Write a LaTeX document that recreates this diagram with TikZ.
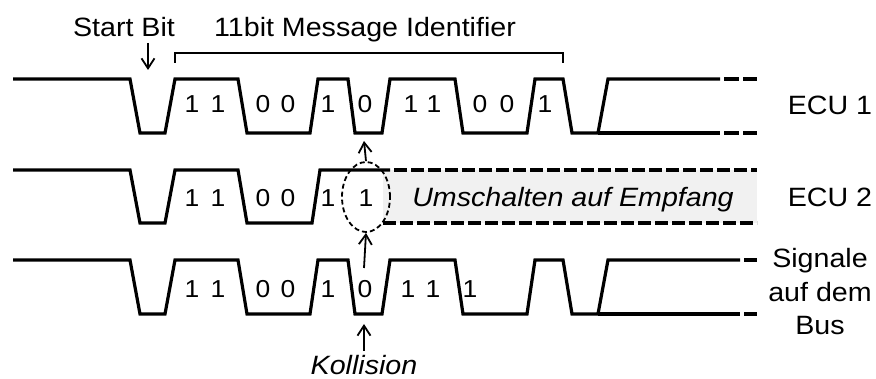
\documentclass[tikz,border=0pt]{standalone}
\usepackage{fontspec}
\setmainfont{Liberation Sans}[FakeStretch=1.08]
\usetikzlibrary{arrows.meta,shapes.geometric}
\begin{document}
\begin{tikzpicture}[x=1pt,y=-1pt,
  wave/.style={line width=3.2pt,line join=miter},
  wavedash/.style={line width=3.2pt,dash pattern=on 13pt off 4pt},
  thinline/.style={line width=1.5pt},
  ptr/.style={line width=1.8pt,-{Straight Barb[length=10pt,width=13pt,line width=1.8pt]}},
  bit/.style={font=\fontsize{24.5}{28}\selectfont,inner sep=0pt,anchor=base},
  lbl/.style={font=\fontsize{26.5}{30}\selectfont,inner sep=0pt,anchor=base},
  ilbl/.style={font=\fontsize{26.5}{30}\selectfont\itshape,inner sep=0pt,anchor=base}]
\useasboundingbox (0,0) rectangle (876,379);

% ---------- ECU 1 ----------
\draw[wave] (13,79) -- (130,79) -- (140,133) -- (165,133) -- (175,79) -- (238,79)
  -- (247,133) -- (310,133) -- (318,79) -- (348,79) -- (355,133) -- (382,133)
  -- (390,79) -- (455,79) -- (463,133) -- (527,133) -- (535,79) -- (563,79)
  -- (572,133) -- (598,133) -- (608,79) -- (720,79);
\draw[wave] (598,133) -- (720,133);
\draw[wavedash,dash pattern=on 15pt off 4pt] (724,79) -- (757,79);
\draw[wavedash,dash pattern=on 15pt off 4pt] (724,133) -- (757,133);

% ---------- ECU 2 ----------
\fill[gray!11] (383,170) rectangle (757,223);
\draw[wave] (13,170) -- (130,170) -- (140,223) -- (165,223) -- (175,170) -- (238,170)
  -- (247,223) -- (312,223) -- (320,170) -- (390,170);
\draw[wavedash] (394,170) -- (757,170);
\draw[wavedash] (383,223) -- (757,223);

% ---------- Bus ----------
\draw[wave] (13,260) -- (130,260) -- (140,314) -- (165,314) -- (175,260) -- (238,260)
  -- (247,314) -- (310,314) -- (318,260) -- (348,260) -- (355,314) -- (382,314)
  -- (390,260) -- (455,260) -- (463,314) -- (527,314) -- (535,260) -- (563,260)
  -- (572,314) -- (598,314) -- (608,260) -- (740,260);
\draw[wave] (598,314) -- (740,314);
\draw[wave] (744,260) -- (757,260);
\draw[wave] (744,314) -- (757,314);

% ---------- bit values ----------
\foreach \x/\b in {192/1,218/1,263/0,288/0,328/1,365/0,411/1,434/1,480/0,507/0,545/1}
  \node[bit] at (\x,113) {\b};
\foreach \x/\b in {192/1,218/1,263/0,288/0,328/1}
  \node[bit] at (\x,207) {\b};
\foreach \x/\b in {192/1,218/1,263/0,288/0,328/1,365/0,408/1,433/1,470/1}
  \node[bit] at (\x,298) {\b};

% ---------- collision marker ----------
\node[draw,ellipse,line width=1.8pt,dash pattern=on 5pt off 3pt,
  minimum width=48pt,minimum height=70pt,inner sep=0pt] (coll) at (366,197) {};
\node[bit] (collbit) at (366,207) {1};
\coordinate (upfrom) at (364,268);
\coordinate (uptop) at (364,141);
\draw[ptr] (upfrom) -- (coll.south);
\draw[ptr] (coll.north) -- (uptop);

\node[ilbl] (koll) at (364,375) {Kollision};
\coordinate (kollfrom) at (364,351);
\coordinate (kolltip) at (364,324);
\draw[ptr] (kollfrom) -- (kolltip);

\node[ilbl] (switch) at (573,207) {Umschalten auf Empfang};

% ---------- headings ----------
\node[lbl] (start) at (124,37) {Start Bit};
\coordinate (startfrom) at (148,43);
\coordinate (starttip) at (148,70);
\draw[ptr] (startfrom) -- (starttip);

\node[lbl] (ident) at (365,37) {11bit Message Identifier};
\coordinate (brL) at (175,63);
\coordinate (brR) at (563,63);
\draw[thinline] (brL) -- ++(0,-10) -| (brR);

% ---------- line names ----------
\node[lbl] (ecu1) at (830,115) {ECU 1};
\node[lbl] (ecu2) at (830,207) {ECU 2};
\node[lbl] (bus1) at (820,268) {Signale};
\node[lbl] (bus2) at (820,302) {auf dem};
\node[lbl] (bus3) at (820,335) {Bus};
\end{tikzpicture}
\end{document}
